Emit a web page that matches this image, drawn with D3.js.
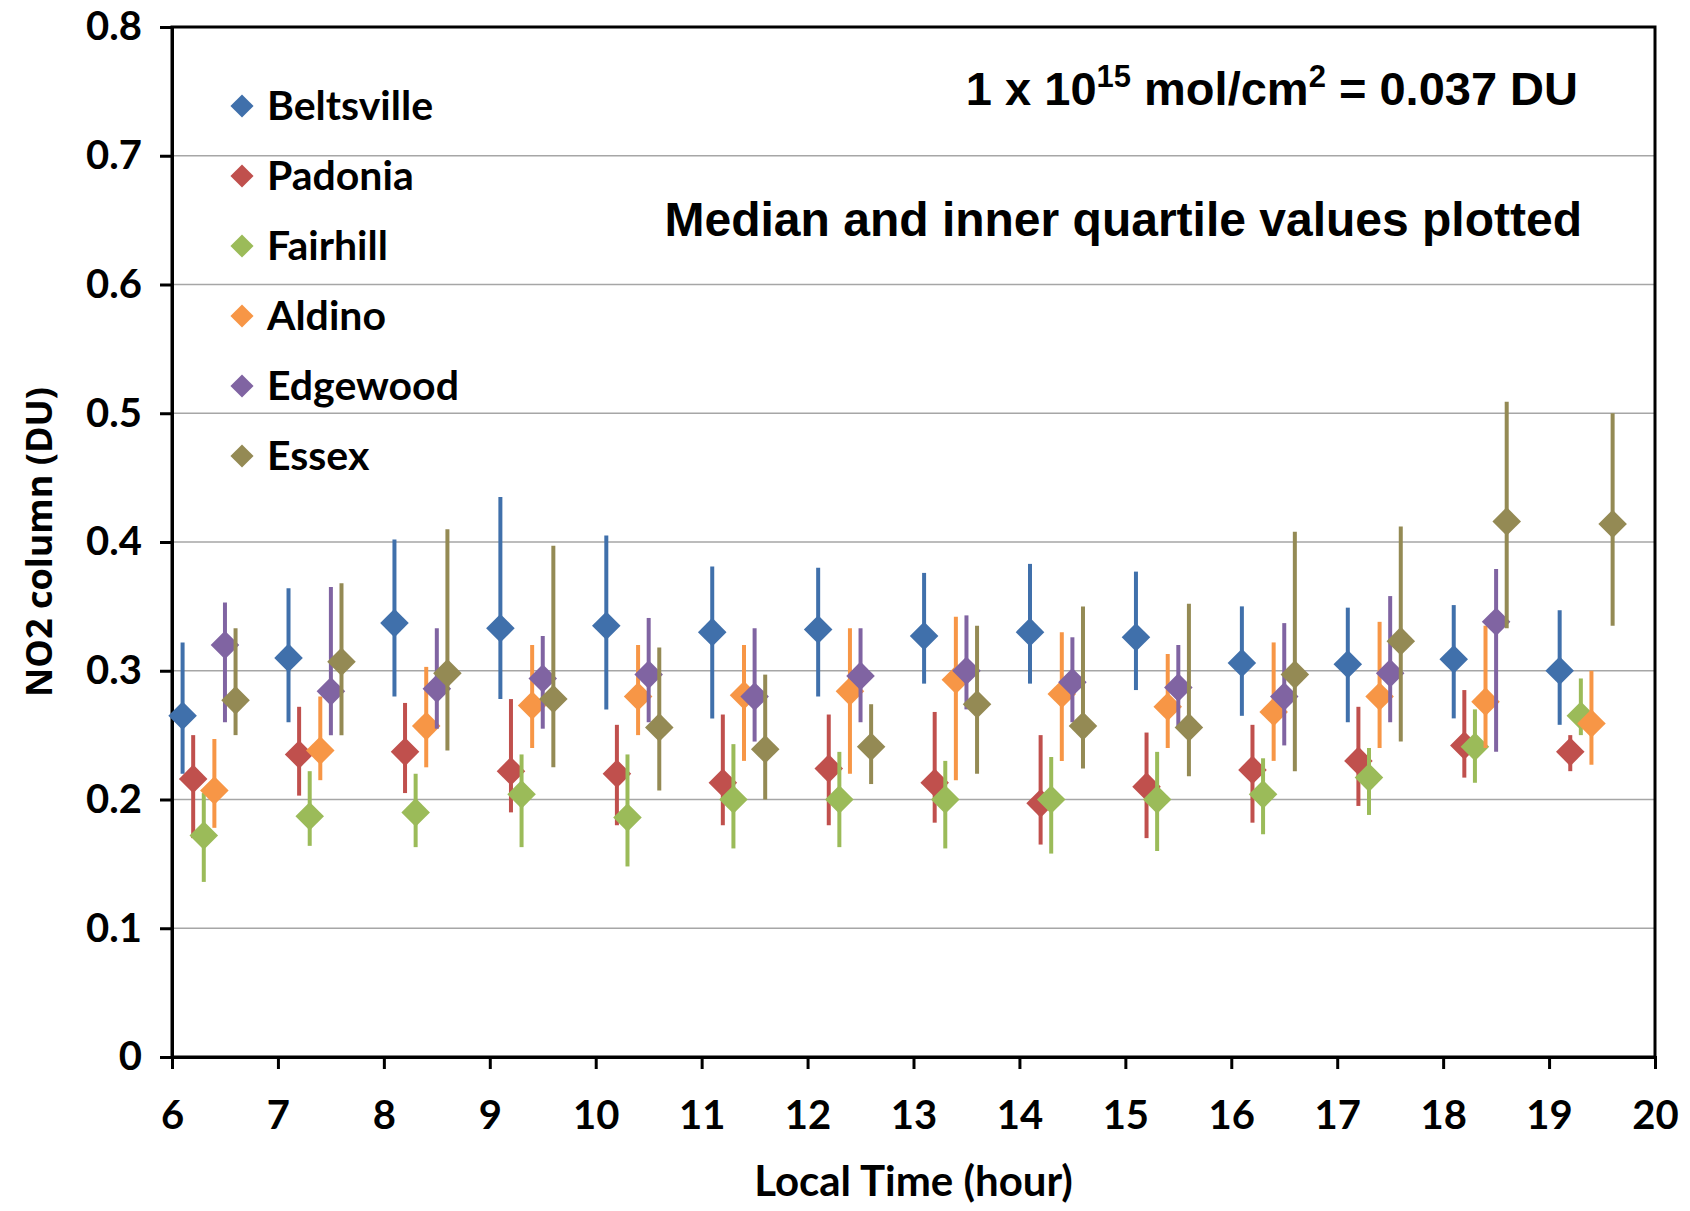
<!DOCTYPE html>
<html><head><meta charset="utf-8">
<script src="https://cdn.jsdelivr.net/npm/d3@7"></script>
<style>body{margin:0;background:#fff}</style>
</head><body>
<script>
var hours = [6,7,8,9,10,11,12,13,14,15,16,17,18,19];
var sites = ["Beltsville","Padonia","Fairhill","Aldino","Edgewood","Essex"];
var colors = ["#4070ab","#c0504d","#9bbb59","#f79646","#8064a2","#948a54"];
var offsets = [0.1,0.2,0.3,0.4,0.5,0.6];
// [median, low quartile, high quartile]
var beltsville = [[.265,.22,.322],[.31,.26,.364],[.337,.28,.402],[.333,.278,.435],[.335,.27,.405],[.33,.263,.381],[.332,.28,.38],[.327,.29,.376],[.33,.29,.383],[.326,.285,.377],[.306,.265,.35],[.305,.26,.349],[.309,.263,.351],[.30,.258,.347]];
var padonia = [[.216,.17,.25],[.235,.203,.272],[.237,.205,.275],[.222,.19,.278],[.22,.18,.258],[.213,.18,.266],[.224,.18,.266],[.213,.182,.268],[.197,.165,.25],[.21,.17,.252],[.223,.182,.258],[.23,.195,.272],[.242,.217,.285],[.237,.222,.25]];
var fairhill = [[.172,.136,.205],[.187,.164,.222],[.19,.163,.22],[.204,.163,.235],[.186,.148,.235],[.2,.162,.243],[.2,.163,.237],[.2,.162,.23],[.2,.158,.233],[.2,.16,.237],[.204,.173,.232],[.217,.188,.24],[.241,.213,.27],[.265,.25,.294]];
var aldino = [[.207,.178,.247],[.238,.215,.28],[.257,.225,.303],[.273,.24,.32],[.28,.25,.32],[.281,.23,.32],[.284,.22,.333],[.293,.215,.342],[.282,.23,.33],[.272,.24,.313],[.268,.23,.322],[.28,.24,.338],[.276,.24,.335],[.259,.227,.3]];
var edgewood = [[.32,.26,.353],[.284,.25,.365],[.286,.255,.333],[.294,.255,.327],[.297,.26,.341],[.28,.245,.333],[.296,.26,.333],[.3,.27,.343],[.291,.26,.326],[.287,.255,.32],[.28,.242,.337],[.298,.26,.358],[.338,.237,.379],null];
var essex = [[.277,.25,.333],[.307,.25,.368],[.298,.238,.41],[.278,.225,.397],[.256,.207,.318],[.239,.2,.297],[.241,.212,.274],[.274,.22,.335],[.257,.224,.35],[.256,.218,.352],[.297,.222,.408],[.323,.245,.412],[.416,.333,.509],[.414,.335,.5]];
var series = [beltsville,padonia,fairhill,aldino,edgewood,essex];
var yTicks = [0,0.1,0.2,0.3,0.4,0.5,0.6,0.7,0.8];

var W = 1690, H = 1211;
var L = 172, R = 1655, T = 27, B = 1057;
var svg = d3.select("body").append("svg").attr("width", W).attr("height", H);
var x = d3.scaleLinear().domain([6,20]).range([L,R]);
var y = d3.scaleLinear().domain([0,0.8]).range([B,T]);
var tickFont = "Lato, 'Open Sans', sans-serif";

svg.append("g").selectAll("line").data(yTicks.slice(1)).enter().append("line")
  .attr("x1", L).attr("x2", R).attr("y1", d => y(d)).attr("y2", d => y(d))
  .attr("stroke", "#a6a6a6").attr("stroke-width", 1.5);

var gy = svg.append("g").attr("transform", "translate(" + L + ",0)")
  .call(d3.axisLeft(y).tickValues(yTicks).tickSize(12).tickPadding(18).tickFormat(d => d === 0 ? "0" : d3.format(".1f")(d)));
var gx = svg.append("g").attr("transform", "translate(0," + B + ")")
  .call(d3.axisBottom(x).ticks(14).tickSize(12).tickPadding(32));
[gy, gx].forEach(function(g) {
  g.selectAll("path,line").attr("stroke", "#000").attr("stroke-width", 3);
  g.selectAll("text").attr("font-family", tickFont).attr("font-weight", "bold").attr("font-size", 40).attr("fill", "#000");
});
svg.append("rect").attr("x", L).attr("y", T).attr("width", R - L).attr("height", B - T)
  .attr("fill", "none").attr("stroke", "#000").attr("stroke-width", 3);

var diamond = d3.symbol().type(d3.symbolDiamond2).size(520);
series.forEach(function(s, si) {
  var pts = s.map((d, i) => d ? {h: hours[i] + offsets[si], m: d[0], lo: d[1], hi: d[2]} : null).filter(d => d);
  var g = svg.append("g");
  g.selectAll("line").data(pts).enter().append("line")
    .attr("x1", d => x(d.h)).attr("x2", d => x(d.h)).attr("y1", d => y(d.lo)).attr("y2", d => y(d.hi))
    .attr("stroke", colors[si]).attr("stroke-width", 4);
  g.selectAll("path").data(pts).enter().append("path")
    .attr("d", diamond).attr("transform", d => "translate(" + x(d.h) + "," + y(d.m) + ")")
    .attr("fill", colors[si]);
});

var leg = svg.append("g");
sites.forEach(function(n, i) {
  var yy = 106 + i * 70;
  leg.append("path").attr("d", d3.symbol().type(d3.symbolDiamond2).size(340)).attr("transform", "translate(242," + yy + ")").attr("fill", colors[i]);
  leg.append("text").attr("x", 267).attr("y", yy + 14).text(n).attr("font-family", tickFont).attr("font-weight", "bold").attr("font-size", 41);
});

var ann = svg.append("text").attr("x", 1578).attr("y", 105).attr("text-anchor", "end")
  .attr("font-family", "'Liberation Sans', Arial, sans-serif").attr("font-weight", "bold").attr("font-size", 47);
ann.append("tspan").text("1 x 10");
ann.append("tspan").text("15").attr("font-size", 31).attr("dy", -18);
ann.append("tspan").text(" mol/cm").attr("dy", 18);
ann.append("tspan").text("2").attr("font-size", 31).attr("dy", -18);
ann.append("tspan").text(" = 0.037 DU").attr("dy", 18);
svg.append("text").attr("x", 1582).attr("y", 236).attr("text-anchor", "end")
  .attr("font-family", "'Liberation Sans', Arial, sans-serif").attr("font-weight", "bold").attr("font-size", 48)
  .text("Median and inner quartile values plotted");

svg.append("text").attr("x", (L + R) / 2).attr("y", 1196).attr("text-anchor", "middle")
  .attr("font-family", tickFont).attr("font-weight", "bold").attr("font-size", 42).text("Local Time (hour)");
svg.append("text").attr("transform", "translate(52," + ((T + B) / 2) + ") rotate(-90)").attr("text-anchor", "middle")
  .attr("font-family", "'Open Sans', sans-serif").attr("font-weight", "bold").attr("font-size", 36).text("NO2 column (DU)");
</script>
</body></html>
